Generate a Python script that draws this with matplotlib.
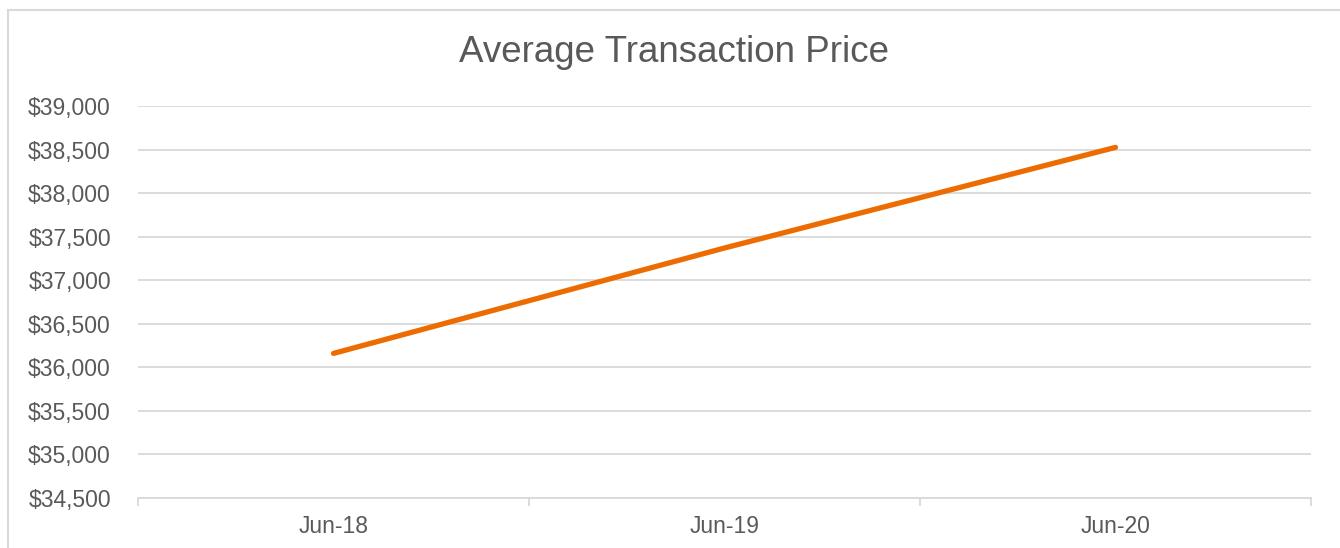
import matplotlib
matplotlib.use("Agg")
import matplotlib.pyplot as plt
from matplotlib.ticker import FuncFormatter, FixedLocator
from matplotlib.lines import Line2D

categories = ["Jun-18", "Jun-19", "Jun-20"]
avg_price = [36160, 37370, 38525]
title = "Average Transaction Price"
y_ticks = list(range(34500, 39001, 500))

plt.rcParams['font.family'] = ['Liberation Sans', 'DejaVu Sans']
text_color = "#595959"
grid_color = "#d9d9d9"

W, H = 1340, 548
fig = plt.figure(figsize=(W / 100, H / 100), dpi=100)
fig.patch.set_facecolor("white")

# chart area border (left and top edges visible)
fig.add_artist(Line2D([7.5 / W, 7.5 / W], [0, 1 - 10 / H], transform=fig.transFigure,
                      color=grid_color, lw=1.5))
fig.add_artist(Line2D([7.5 / W, 1], [1 - 10 / H, 1 - 10 / H], transform=fig.transFigure,
                      color=grid_color, lw=1.5))

ax = fig.add_axes([138 / W, 1 - 498 / H, (1311 - 138) / W, (498 - 106) / H])
x = list(range(len(categories)))
ax.plot(x, avg_price, color="#ED6C02", lw=3.8, solid_capstyle="round", zorder=3)

ax.set_xlim(-0.5, len(categories) - 0.5)
ax.set_ylim(y_ticks[0], y_ticks[-1])
ax.set_yticks(y_ticks)
ax.yaxis.set_major_formatter(FuncFormatter(lambda v, p: f"${v:,.0f}"))
ax.grid(axis="y", color=grid_color, lw=1.3)
ax.set_axisbelow(True)

ax.set_xticks(x)
ax.set_xticklabels(categories)
ax.xaxis.set_minor_locator(FixedLocator([i - 0.5 for i in range(len(categories) + 1)]))
ax.tick_params(axis="x", which="major", length=0, pad=12, labelsize=16.5, labelcolor=text_color)
ax.tick_params(axis="x", which="minor", length=6, width=1.3, color=grid_color)
ax.tick_params(axis="y", length=0, pad=19.5, labelsize=16.5, labelcolor=text_color)

for s in ["top", "right", "left"]:
    ax.spines[s].set_visible(False)
ax.spines["bottom"].set_color(grid_color)
ax.spines["bottom"].set_linewidth(1.3)

fig.text(674 / W, 1 - 52 / H, title, ha="center", va="center", fontsize=26.5, color=text_color)

fig.savefig("out.png", dpi=100, facecolor="white")
